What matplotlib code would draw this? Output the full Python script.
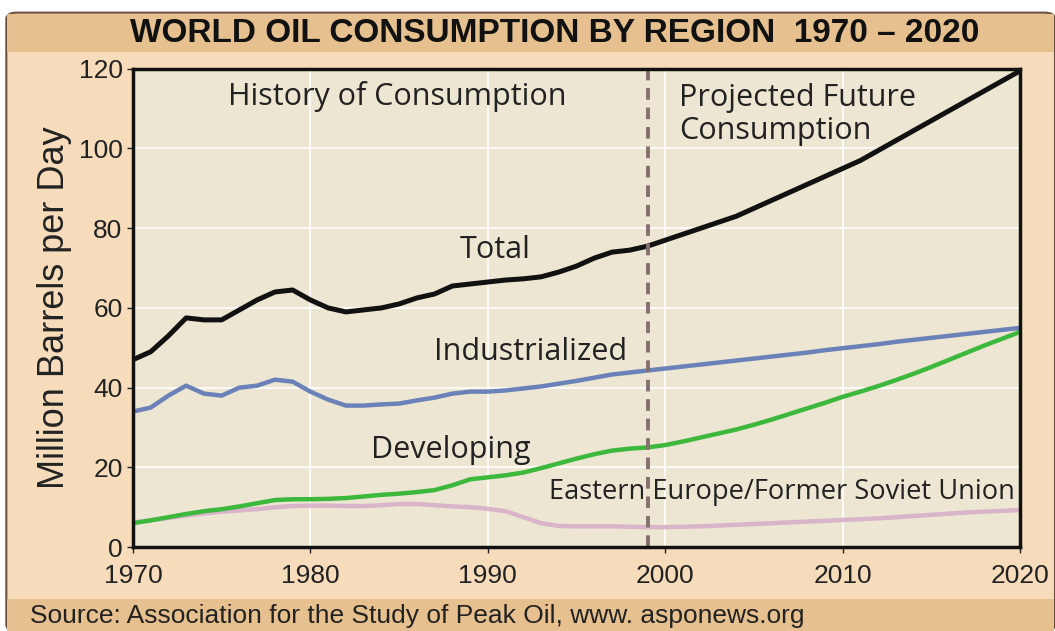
import matplotlib
matplotlib.use("Agg")
import matplotlib.pyplot as plt
from matplotlib.patches import FancyBboxPatch, Rectangle

years = list(range(1970, 2021))
total = [47, 49, 53, 57.5, 57, 57, 59.5, 62, 64, 64.5,
         62, 60, 59, 59.5, 60, 61, 62.5, 63.5, 65.5, 66,
         66.5, 67, 67.3, 67.8, 69, 70.5, 72.5, 74, 74.5, 75.5,
         77, 78.5, 80, 81.5, 83, 85, 87, 89, 91, 93,
         95, 97, 99.5, 102, 104.5, 107, 109.5, 112, 114.5, 117, 119.5]
industrialized = [34, 35, 38, 40.5, 38.5, 38, 40, 40.5, 42, 41.5,
                  39, 37, 35.5, 35.5, 35.8, 36, 36.8, 37.5, 38.5, 39,
                  39, 39.3, 39.8, 40.3, 41, 41.7, 42.5, 43.3, 43.8, 44.3,
                  44.8, 45.3, 45.8, 46.3, 46.8, 47.3, 47.8, 48.3, 48.8, 49.4,
                  49.9, 50.4, 50.9, 51.5, 52, 52.5, 53, 53.5, 54, 54.5, 55]
developing = [6, 6.7, 7.5, 8.3, 9, 9.5, 10.2, 11, 11.8, 12,
              12, 12.1, 12.3, 12.7, 13.1, 13.4, 13.8, 14.3, 15.5, 17,
              17.5, 18, 18.7, 19.8, 21, 22.2, 23.3, 24.2, 24.7, 25,
              25.6, 26.5, 27.5, 28.5, 29.5, 30.7, 32, 33.4, 34.8, 36.2,
              37.7, 39, 40.4, 41.9, 43.5, 45.2, 47, 48.8, 50.6, 52.3, 54]
eastern = [6.2, 6.7, 7.3, 7.9, 8.4, 8.9, 9.2, 9.5, 10, 10.3,
           10.4, 10.4, 10.3, 10.3, 10.5, 10.8, 10.8, 10.5, 10.2, 10,
           9.6, 9, 7.5, 6, 5.3, 5.2, 5.2, 5.2, 5.1, 5,
           5, 5.1, 5.2, 5.4, 5.6, 5.8, 6.0, 6.2, 6.4, 6.6,
           6.8, 7.0, 7.2, 7.5, 7.8, 8.1, 8.4, 8.7, 8.9, 9.1, 9.3]
x_ticks = [1970, 1980, 1990, 2000, 2010, 2020]
y_ticks = [0, 20, 40, 60, 80, 100, 120]
projection_year = 1999

plt.rcParams['font.family'] = ['Liberation Sans', 'DejaVu Sans']

fig = plt.figure(figsize=(10.55, 6.31), dpi=100)
fig.patch.set_facecolor("white")

# outer panel, title banner and source band (behind the axes)
fig.patches.append(FancyBboxPatch((0.006, 0.0), 0.994, 0.98, boxstyle="round,pad=0,rounding_size=0.01",
                                  transform=fig.transFigure, facecolor="#f6dcbb",
                                  edgecolor="#6b5040", linewidth=1.5, zorder=-2))
fig.patches.append(Rectangle((0.007, 0.918), 0.992, 0.06, transform=fig.transFigure,
                             facecolor="#e6c08e", edgecolor="none", zorder=-1))
fig.patches.append(Rectangle((0.007, 0.0), 0.992, 0.05, transform=fig.transFigure,
                             facecolor="#e6c08e", edgecolor="none", zorder=-1))
fig.text(0.526, 0.947, "WORLD OIL CONSUMPTION BY REGION  1970 \u2013 2020", ha="center", va="center",
         fontsize=24, fontweight="bold", color="#111111")
fig.text(0.028, 0.024, "Source: Association for the Study of Peak Oil, www. asponews.org",
         ha="left", va="center", fontsize=19, color="#222222")

ax = fig.add_axes([0.126, 0.133, 0.841, 0.758])
ax.set_facecolor("#ede6d2")
ax.grid(True, color="white", linewidth=1.2)
ax.set_axisbelow(True)

ax.plot(years, eastern, color="#d9b5c9", linewidth=3.2, solid_capstyle="butt")
ax.plot(years, developing, color="#3cb83c", linewidth=3.2, solid_capstyle="butt")
ax.plot(years, industrialized, color="#6b82b8", linewidth=3.2, solid_capstyle="butt")
ax.plot(years, total, color="#111111", linewidth=3.6, solid_capstyle="butt")
ax.axvline(projection_year, color="#85706f", linewidth=2.8, dashes=(3, 2))

ax.set_xlim(1970, 2020)
ax.set_ylim(0, 120)
ax.set_xticks(x_ticks)
ax.set_yticks(y_ticks)
ax.tick_params(labelsize=19, length=4, width=1, colors="#222222")
ax.tick_params(axis="x", pad=8)
for s in ax.spines.values():
    s.set_linewidth(2.5)
    s.set_color("#111111")
ax.set_ylabel("Million Barrels per Day", fontsize=26, color="#222222", labelpad=5)

txt = dict(color="#222222", family=["Open Sans", "DejaVu Sans"])
ax.text(1984.9, 113, "History of Consumption", ha="center", va="center", fontsize=22, **txt)
ax.text(2000.8, 108.5, "Projected Future\nConsumption", ha="left", va="center", linespacing=1.1,
        fontsize=22, **txt)
ax.text(1990.4, 74.5, "Total", ha="center", va="center", fontsize=22, **txt)
ax.text(1992.4, 49, "Industrialized", ha="center", va="center", fontsize=22, **txt)
ax.text(1987.9, 24.3, "Developing", ha="center", va="center", fontsize=22, **txt)
ax.text(2006.6, 13.8, "Eastern Europe/Former Soviet Union", ha="center", va="center",
        fontsize=19.6, **txt)

fig.savefig("out.png", dpi=100, facecolor=fig.get_facecolor())
